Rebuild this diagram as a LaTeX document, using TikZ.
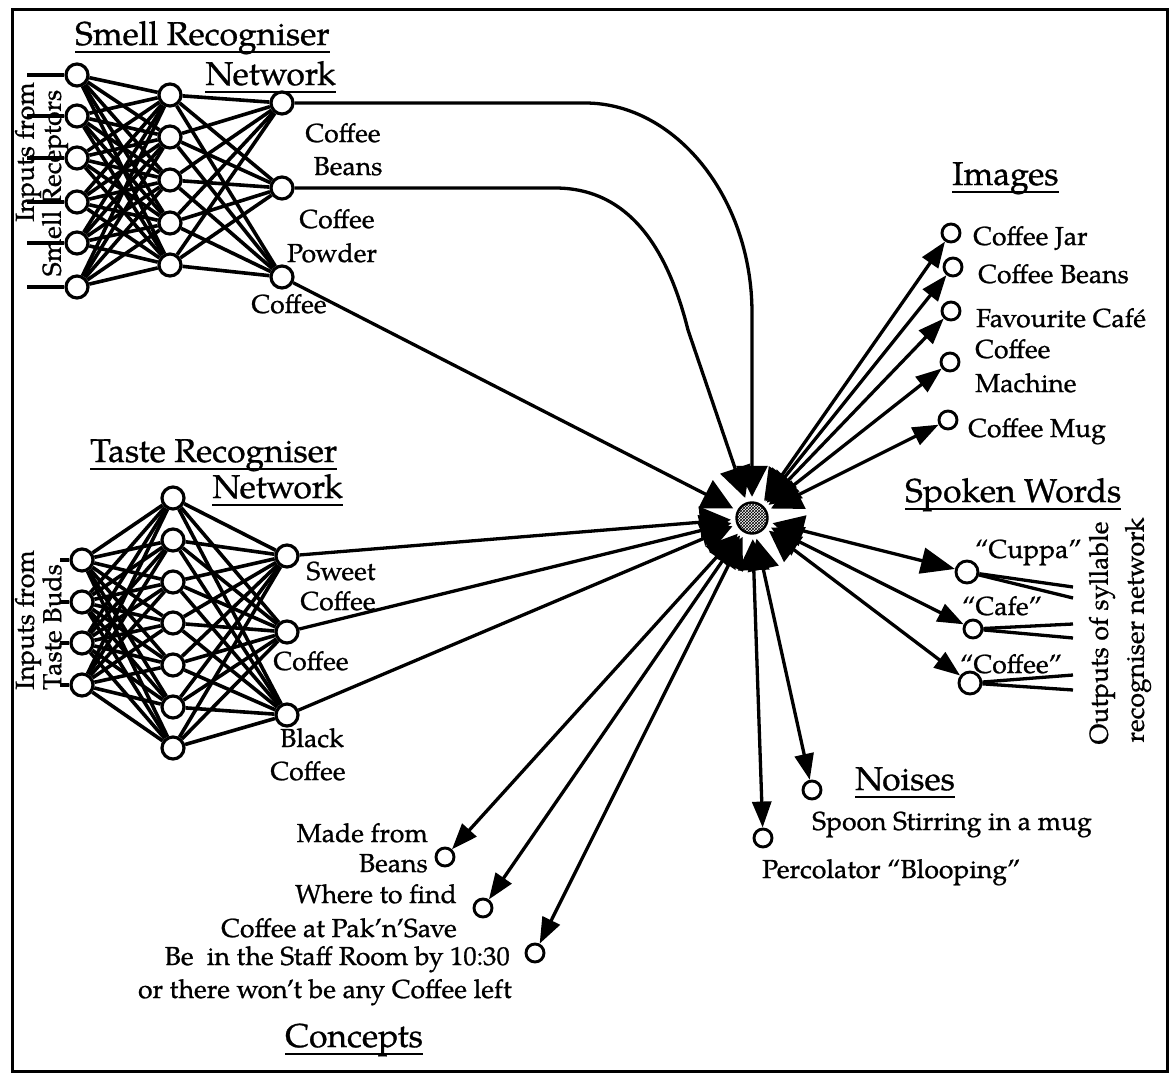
\documentclass[tikz,border=0pt]{standalone}
\usepackage{fontspec}
\setmainfont[FakeStretch=1.02,FakeBold=0.9]{TeX Gyre Pagella}
\usetikzlibrary{arrows.meta,patterns}

% underlined heading with the rule a little below the baseline
\newcommand\undertext[1]{\setbox0\hbox{#1}\rlap{\rule[-8pt]{\wd0}{2.2pt}}\box0}

\begin{document}
\begin{tikzpicture}[x=1pt,y=-1pt,
  neuron/.style={circle,draw,line width=3.2pt,fill=white,minimum size=22pt,inner sep=0pt},
  unit/.style={circle,draw,line width=2.9pt,fill=white,minimum size=18pt,inner sep=0pt},
  wire/.style={line width=3.6pt},
  link/.style={line width=3.3pt},
  body/.style={inner sep=0pt,font=\fontsize{26}{30}\selectfont},
  heading/.style={inner sep=0pt,font=\fontsize{33}{36}\selectfont},
  tohub/.style={link,-{Triangle[length=31pt,width=31pt]}},
  fromhub/.style={link,{Triangle[length=31pt,width=31pt]}-{Triangle[length=26pt,width=19pt]}},
]
\useasboundingbox (0,0) rectangle (1173,1075);
\draw[line width=3pt] (12,10) rectangle (1167,1071);

% ---------------- smell recogniser network ----------------
\foreach \y [count=\i] in {75,116,158,202,243,287} {
  \node[neuron] (si\i) at (77,\y) {};
  \coordinate (sx\i) at (27,\y);
}
\foreach \y [count=\i] in {95,137,180,223,265} \node[neuron] (sh\i) at (170,\y) {};
\foreach \y [count=\i] in {103,188,277} \node[neuron] (so\i) at (282,\y) {};
\foreach \i in {1,...,6} {
  \draw[wire] (sx\i) -- (si\i);
  \foreach \j in {1,...,5} \draw[wire] (si\i) -- (sh\j);
}
\foreach \i in {1,...,5} \foreach \j in {1,...,3} \draw[wire] (sh\i) -- (so\j);

\node[body,rotate=90] (sinA) at (28,152) {Inputs from};
\node[body,rotate=90] (sinB) at (55,183) {Smell Receptors};
\node[heading,anchor=base west] (stitleA) at (75,45) {\undertext{Smell Recogniser}};
\node[heading,anchor=base east] (stitleB) at (336,85) {\undertext{Network}};
\node[body,anchor=base] (slA) at (343,142) {Coffee};
\node[body,anchor=base] (slB) at (348,175) {Beans};
\node[body,anchor=base] (slC) at (337,228) {Coffee};
\node[body,anchor=base] (slD) at (332,262) {Powder};
\node[body,anchor=base] (slE) at (289,313) {Coffee};

% ---------------- taste recogniser network ----------------
\foreach \y [count=\i] in {560,602,643,685} {
  \node[neuron] (ti\i) at (82,\y) {};
  \coordinate (tx\i) at (60,\y);
}
\foreach \y [count=\i] in {498,540,582,623,665,707,748} \node[neuron] (th\i) at (173,\y) {};
\foreach \y [count=\i] in {556,632,715} \node[neuron] (to\i) at (287,\y) {};
\foreach \i in {1,...,4} {
  \draw[wire] (tx\i) -- (ti\i);
  \foreach \j in {1,...,7} \draw[wire] (ti\i) -- (th\j);
}
\foreach \i in {1,...,7} \foreach \j in {1,...,3} \draw[wire] (th\i) -- (to\j);

\node[body,rotate=90] (tinA) at (28,620) {Inputs from};
\node[body,rotate=90] (tinB) at (52,627) {Taste Buds};
\node[heading,anchor=base west] (ttitleA) at (90,462) {\undertext{Taste Recogniser}};
\node[heading,anchor=base east] (ttitleB) at (343,498) {\undertext{Network}};
\node[body,anchor=base] (tlA) at (341,580) {Sweet};
\node[body,anchor=base] (tlB) at (338,610) {Coffee};
\node[body,anchor=base] (tlC) at (311,670) {Coffee};
\node[body,anchor=base] (tlD) at (312,747) {Black};
\node[body,anchor=base] (tlE) at (308,780) {Coffee};

% ---------------- central unit ----------------
\node[circle,draw,line width=2.4pt,minimum size=31pt,inner sep=0pt,pattern=crosshatch] (core) at (752,518) {};
\node[circle,minimum size=42pt,inner sep=0pt] (hub) at (752,518) {};

\draw[tohub] (so1) -- (585,103) .. controls (675,103) and (752,197) .. (752,313) -- (hub);
\draw[tohub] (so2) -- (555,188) .. controls (630,188) and (668,250) .. (688,330) -- (hub);
\draw[tohub] (so3) -- (hub);
\draw[tohub] (to1) -- (hub);
\draw[tohub] (to2) -- (hub);
\draw[tohub] (to3) -- (hub);

% ---------------- images ----------------
\node[heading,anchor=base west] (ititle) at (952,185) {\undertext{Images}};
\node[unit] (jar) at (951,233) {};
\node[unit] (ibeans) at (953,267) {};
\node[unit] (cafe) at (951,311) {};
\node[unit] (machine) at (950,362) {};
\node[unit] (mug) at (948,420) {};
\node[body,anchor=base west] (ilA) at (973,245) {Coffee Jar};
\node[body,anchor=base west] (ilB) at (978,283) {Coffee Beans};
\node[body,anchor=base west] (ilC) at (976,327) {Favourite Café};
\node[body,anchor=base west] (ilD) at (975,358) {Coffee};
\node[body,anchor=base west] (ilE) at (975,392) {Machine};
\node[body,anchor=base west] (ilF) at (968,437) {Coffee Mug};
\foreach \n in {jar,ibeans,cafe,machine,mug} \draw[fromhub] (hub) -- (\n);

% ---------------- spoken words ----------------
\node[heading,anchor=base west] (wtitle) at (905,502) {\undertext{Spoken Words}};
\node[unit,minimum size=22pt] (cuppa) at (967,572) {};
\node[unit,minimum size=18pt] (wcafe) at (973,629) {};
\node[unit,minimum size=22pt] (wcoffee) at (970,683) {};
\node[body,anchor=base west] (wlA) at (975,558) {“Cuppa”};
\node[body,anchor=base west] (wlB) at (962,615) {“Cafe”};
\node[body,anchor=base west] (wlC) at (960,673) {“Coffee”};
\coordinate (cuA) at (1073,587);
\coordinate (cuB) at (1073,598);
\coordinate (caA) at (1073,624);
\coordinate (caB) at (1073,638);
\coordinate (coA) at (1073,675);
\coordinate (coB) at (1073,690);
\draw[link] (cuppa) -- (cuA);
\draw[link] (cuppa) -- (cuB);
\draw[link] (wcafe) -- (caA);
\draw[link] (wcafe) -- (caB);
\draw[link] (wcoffee) -- (coA);
\draw[link] (wcoffee) -- (coB);
\node[body,rotate=90] (wsA) at (1102,633) {Outputs of syllable};
\node[body,rotate=90] (wsB) at (1138,630) {recogniser network};
\draw[link,{Triangle[length=31pt,width=31pt]}-{Triangle[length=34pt,width=26pt]}] (hub) -- (cuppa);
\draw[fromhub] (hub) -- (wcafe);
\draw[fromhub] (hub) -- (wcoffee);

% ---------------- concepts ----------------
\node[unit] (made) at (445,857) {};
\node[unit] (where) at (483,908) {};
\node[unit] (staff) at (535,953) {};
\node[body,anchor=base east] (clA) at (428,842) {Made from};
\node[body,anchor=base east] (clB) at (428,872) {Beans};
\node[body,anchor=base east] (clC) at (457,903) {Where to find};
\node[body,anchor=base east] (clD) at (457,937) {Coffee at Pak’n’Save};
\node[body,anchor=base east] (clE) at (510,965) {Be~ in the Staff Room by 10:30};
\node[body,anchor=base east] (clF) at (512,998) {or there won’t be any Coffee left};
\node[heading,anchor=base west] (ctitle) at (285,1047) {\undertext{Concepts}};
\foreach \n in {made,where,staff} \draw[fromhub] (hub) -- (\n);

% ---------------- noises ----------------
\node[unit] (spoon) at (812,790) {};
\node[unit] (perc) at (763,838) {};
\node[heading,anchor=base west] (ntitle) at (855,790) {\undertext{Noises}};
\node[body,anchor=base west] (nlA) at (812,830) {Spoon Stirring in a mug};
\node[body,anchor=base west] (nlB) at (762,878) {Percolator “Blooping”};
\draw[fromhub] (hub) -- (spoon);
\draw[fromhub] (hub) -- (perc);

\end{tikzpicture}
\end{document}
